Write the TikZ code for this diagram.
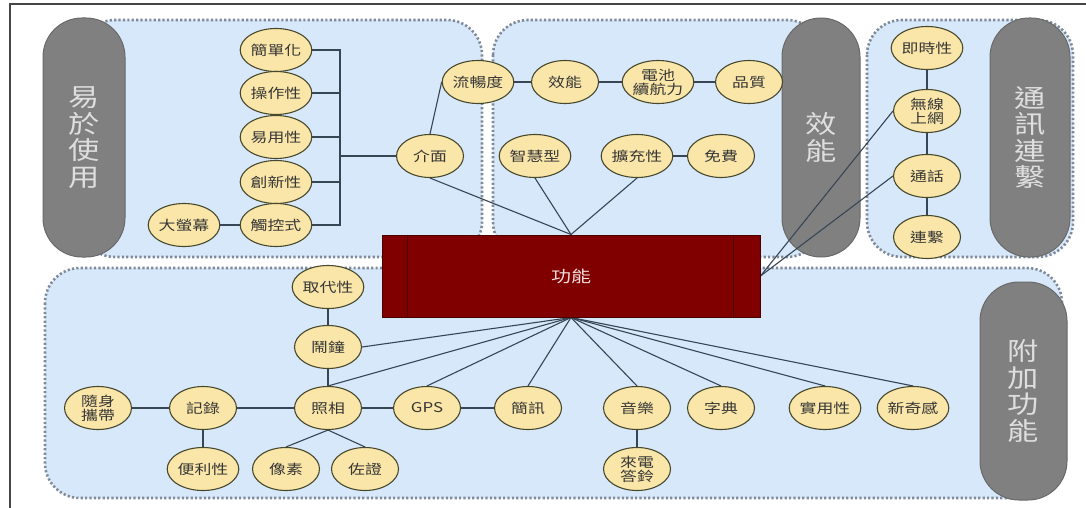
\documentclass[tikz,border=0pt]{standalone}
\usepackage{fontspec}
\newfontfamily\cjk[FakeStretch=1.25]{Noto Sans CJK TC}
\usetikzlibrary{shapes.geometric}
\definecolor{panelfill}{RGB}{214,232,250}
\definecolor{dotcol}{RGB}{128,138,152}
\definecolor{pillfill}{RGB}{128,128,128}
\definecolor{pillline}{RGB}{105,105,105}
\definecolor{pilltxt}{RGB}{222,222,222}
\definecolor{bubfill}{RGB}{250,230,168}
\definecolor{bubline}{RGB}{72,72,44}
\definecolor{txt}{RGB}{55,55,55}
\definecolor{edgecol}{RGB}{55,70,85}
\definecolor{funcfill}{RGB}{128,0,0}
\definecolor{funcline}{RGB}{72,0,0}
\definecolor{functxt}{RGB}{245,222,222}
\definecolor{framecol}{RGB}{70,70,70}
\pgfdeclarelayer{back}
\pgfdeclarelayer{edges}
\pgfsetlayers{back,edges,main}
\tikzset{
  bub/.style={ellipse, draw=bubline, line width=1.1pt, fill=bubfill, minimum width=67pt, minimum height=43pt, inner sep=0pt, font=\cjk\fontsize{13.5}{14}\selectfont, text=txt, align=center},
  pill/.style={draw=pillline, fill=pillfill, line width=1pt, rounded corners=39pt, inner sep=0pt, align=center, font=\cjk\fontsize{25}{26.5}\selectfont, text=pilltxt},
  panel/.style={fill=panelfill, draw=dotcol, line width=2.6pt, dash pattern=on 2.2pt off 2.2pt, rounded corners=35pt},
  conn/.style={draw=edgecol, line width=1.1pt},
  funcbox/.style={draw=funcline, fill=funcfill, line width=1pt, minimum width=378pt, minimum height=82pt, inner sep=0pt, font=\cjk\fontsize{16}{18}\selectfont, text=functxt}
}
\begin{document}
\begin{tikzpicture}[x=1pt,y=-1pt]
\useasboundingbox (0,0) rectangle (1086,508);
\begin{pgfonlayer}{back}
\fill[white] (0,0) rectangle (1086,508);
\draw[line width=1.5pt, framecol] (10,508) -- (10,4) -- (1086,4);
% panels
\path[panel] (80,20) rectangle (482,257);
\path[panel] (493,20) rectangle (822,257);
\path[panel] (867,20) rectangle (1073,257);
\path[panel] (45,268) rectangle (1062,498);
% pills
\node[pill, minimum width=82pt, minimum height=239pt] (pA) at (84,137.5) {易\\於\\使\\用};
\node[pill, minimum width=78pt, minimum height=239pt] (pB) at (821,137.5) {效\\能};
\node[pill, minimum width=80pt, minimum height=239pt] (pC) at (1030,137.5) {通\\訊\\連\\繫};
\node[pill, minimum width=87pt, minimum height=218pt] (pD) at (1023.5,391) {附\\加\\功\\能};
\end{pgfonlayer}
% central box
\node[funcbox] (F) at (571,276) {功能};
\draw[funcline, line width=1.3pt] ([xshift=26pt]F.north west) -- ([xshift=26pt]F.south west);
\draw[funcline, line width=1.3pt] ([xshift=-27pt]F.north east) -- ([xshift=-27pt]F.south east);
% group 1
\node[bub] (jd) at (276,50) {簡單化};
\node[bub] (cz) at (276,93) {操作性};
\node[bub] (yy) at (276,137) {易用性};
\node[bub] (cx) at (276,182) {創新性};
\node[bub] (ck) at (276,225) {觸控式};
\node[bub] (dy) at (184,225) {大螢幕};
\node[bub] (jm) at (430,156) {介面};
\coordinate (br) at (340,156);
% group 2
\node[bub] (lc) at (478,82) {流暢度};
\node[bub] (xn) at (565,82) {效能};
\node[bub] (dc) at (658,82) {電池\\續航力};
\node[bub] (pz) at (749,82) {品質};
\node[bub] (zh) at (535,156) {智慧型};
\node[bub] (kc) at (637,156) {擴充性};
\node[bub] (mf) at (721,156) {免費};
% group 3
\node[bub] (js) at (927,48) {即時性};
\node[bub] (wx) at (927,111) {無線\\上網};
\node[bub] (th) at (927,176) {通話};
\node[bub] (lj) at (927,237) {連繫};
% group 4
\node[bub] (qd) at (328,287) {取代性};
\node[bub] (nz) at (328,347) {鬧鐘};
\node[bub] (ss) at (98,408) {隨身\\攜帶};
\node[bub] (jl) at (203,408) {記錄};
\node[bub] (zx) at (328,408) {照相};
\node[bub] (gps) at (427,408) {GPS};
\node[bub] (jx) at (528,408) {簡訊};
\node[bub] (yl) at (637,408) {音樂};
\node[bub] (zd) at (721,408) {字典};
\node[bub] (sy) at (825,408) {實用性};
\node[bub] (xq) at (913,408) {新奇感};
\node[bub] (bl) at (203,469) {便利性};
\node[bub] (xs) at (286,469) {像素};
\node[bub] (zz) at (365,469) {佐證};
\node[bub] (ld) at (637,469) {來電\\答鈴};
% connectors
\begin{pgfonlayer}{edges}
\draw[conn] (jd.east) -| (br);
\draw[conn] (cz.east) -| (br);
\draw[conn] (yy.east) -| (br);
\draw[conn] (cx.east) -| (br);
\draw[conn] (ck.east) -| (br);
\draw[conn] (br) -- (jm.west);
\draw[conn] (dy) -- (ck);
\draw[conn] (jm.north) -- (lc.west);
\draw[conn] (lc) -- (xn);
\draw[conn] (xn) -- (dc);
\draw[conn] (dc) -- (pz);
\draw[conn] (kc) -- (mf);
\draw[conn] (jm.south) -- (F.north);
\draw[conn] (zh.south) -- (F.north);
\draw[conn] (kc.south) -- (F.north);
\draw[conn] (js) -- (wx);
\draw[conn] (wx) -- (th);
\draw[conn] (th) -- (lj);
\draw[conn] (F.east) -- (wx.west);
\draw[conn] (F.east) -- (th.west);
\draw[conn] (qd) -- (nz);
\draw[conn] (nz) -- (zx);
\draw[conn] (ss) -- (jl);
\draw[conn] (jl) -- (zx);
\draw[conn] (zx) -- (gps);
\draw[conn] (gps) -- (jx);
\draw[conn] (jl) -- (bl);
\draw[conn] (zx.south) -- (xs.north);
\draw[conn] (zx.south) -- (zz.north);
\draw[conn] (yl) -- (ld);
\draw[conn] (F.south) -- (nz.east);
\draw[conn] (F.south) -- (zx.north);
\draw[conn] (F.south) -- (gps.north);
\draw[conn] (F.south) -- (jx.north);
\draw[conn] (F.south) -- (yl.north);
\draw[conn] (F.south) -- (zd.north);
\draw[conn] (F.south) -- (sy.north);
\draw[conn] (F.south) -- (xq.north);
\end{pgfonlayer}
\end{tikzpicture}
\end{document}
